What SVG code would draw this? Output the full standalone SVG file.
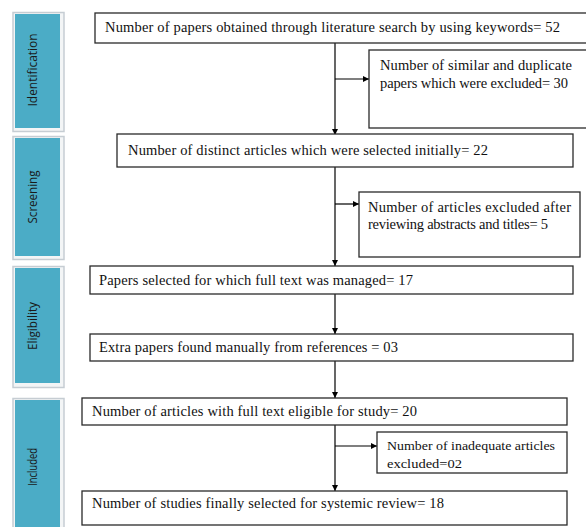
<svg xmlns="http://www.w3.org/2000/svg" width="586" height="527" viewBox="0 0 586 527">
<style>
.box{fill:#fff;stroke:#2a2a2a;stroke-width:1.3}
.t{font-family:"Liberation Serif","Times New Roman","DejaVu Serif",serif;font-size:14.5px;fill:#111}
.ts{font-family:"Liberation Serif","Times New Roman","DejaVu Serif",serif;font-size:13px;fill:#111}
.frame{fill:#f3f5f6;stroke:#c6cdd3;stroke-width:1.5}
.panel{fill:#4bacc6}
.pt{font-family:"Open Sans","Liberation Sans",Arial,sans-serif;font-size:12px;fill:#1a1a1a;text-anchor:middle}
.ln{stroke:#000;stroke-width:1.2;fill:none}
</style>
<defs>
<marker id="ah" viewBox="0 0 8 8" refX="8" refY="4" markerWidth="6" markerHeight="6" orient="auto" markerUnits="userSpaceOnUse">
<path d="M0,0 L8,4 L0,8 Z" fill="#000"/>
</marker>
</defs>
<g id="phase-identification">
<rect class="frame" x="13" y="12.5" width="51" height="119"/>
<rect class="panel" x="15" y="14" width="45" height="114"/>
<text class="pt" x="37" y="70" transform="rotate(-90 37 70)" textLength="73" lengthAdjust="spacingAndGlyphs">Identification</text>
</g>
<g id="phase-screening">
<rect class="frame" x="13" y="136.5" width="51" height="123"/>
<rect class="panel" x="15" y="138" width="45" height="118"/>
<text class="pt" x="37" y="197" transform="rotate(-90 37 197)" textLength="53" lengthAdjust="spacingAndGlyphs">Screening</text>
</g>
<g id="phase-eligibility">
<rect class="frame" x="13" y="266.5" width="51" height="121"/>
<rect class="panel" x="15" y="268" width="45" height="115"/>
<text class="pt" x="37" y="326" transform="rotate(-90 37 326)" textLength="48" lengthAdjust="spacingAndGlyphs">Eligibility</text>
</g>
<g id="phase-included">
<rect class="frame" x="13" y="398.5" width="51" height="135"/>
<rect class="panel" x="15" y="400" width="45" height="130"/>
<text class="pt" x="37" y="467" transform="rotate(-90 37 467)" textLength="38" lengthAdjust="spacingAndGlyphs">Included</text>
</g>
<g id="connectors">
<line class="ln" x1="335" y1="43" x2="335" y2="135" marker-end="url(#ah)"/>
<line class="ln" x1="335" y1="79" x2="369" y2="79" marker-end="url(#ah)"/>
<line class="ln" x1="335" y1="167" x2="335" y2="266" marker-end="url(#ah)"/>
<line class="ln" x1="335" y1="204" x2="359" y2="204" marker-end="url(#ah)"/>
<line class="ln" x1="335" y1="294" x2="335" y2="334" marker-end="url(#ah)"/>
<line class="ln" x1="335" y1="361" x2="335" y2="398" marker-end="url(#ah)"/>
<line class="ln" x1="335" y1="425" x2="335" y2="491" marker-end="url(#ah)"/>
<line class="ln" x1="335" y1="446" x2="377" y2="446" marker-end="url(#ah)"/>
</g>
<g id="n1">
<rect class="box" x="95" y="13" width="500" height="30"/>
<text class="t" x="105" y="32" textLength="455" lengthAdjust="spacing">Number of papers obtained through literature search by using keywords= 52</text>
</g>
<g id="n2">
<rect class="box" x="369" y="50" width="230" height="78"/>
<text class="t" x="380" y="70" textLength="192" lengthAdjust="spacing">Number of similar and duplicate</text>
<text class="t" x="380" y="88" textLength="188" lengthAdjust="spacing">papers which were excluded= 30</text>
</g>
<g id="n3">
<rect class="box" x="117" y="134" width="456" height="33"/>
<text class="t" x="128" y="155" textLength="360" lengthAdjust="spacing">Number of distinct articles which were selected initially= 22</text>
</g>
<g id="n4">
<rect class="box" x="359" y="192" width="221" height="65"/>
<text class="t" x="368" y="212" textLength="203" lengthAdjust="spacing">Number of articles excluded after</text>
<text class="t" x="368" y="229" textLength="180" lengthAdjust="spacing">reviewing abstracts and titles= 5</text>
</g>
<g id="n5">
<rect class="box" x="90" y="266" width="483" height="28"/>
<text class="t" x="99" y="285" textLength="314" lengthAdjust="spacing">Papers selected  for which full text was managed= 17</text>
</g>
<g id="n6">
<rect class="box" x="90" y="334" width="483" height="27"/>
<text class="t" x="99" y="352" textLength="299" lengthAdjust="spacing">Extra papers found manually from references = 03</text>
</g>
<g id="n7">
<rect class="box" x="82" y="398" width="485" height="27"/>
<text class="t" x="92" y="416" textLength="325" lengthAdjust="spacing">Number of articles with full text eligible for study= 20</text>
</g>
<g id="n8">
<rect class="box" x="377" y="432" width="190" height="41"/>
<text class="ts" x="387" y="450" textLength="168" lengthAdjust="spacingAndGlyphs">Number of inadequate articles</text>
<text class="ts" x="387" y="468" textLength="75" lengthAdjust="spacingAndGlyphs">excluded=02</text>
</g>
<g id="n9">
<rect class="box" x="82" y="491" width="485" height="34"/>
<text class="t" x="92" y="508" textLength="352" lengthAdjust="spacing">Number of studies finally selected for systemic review= 18</text>
</g>
</svg>
